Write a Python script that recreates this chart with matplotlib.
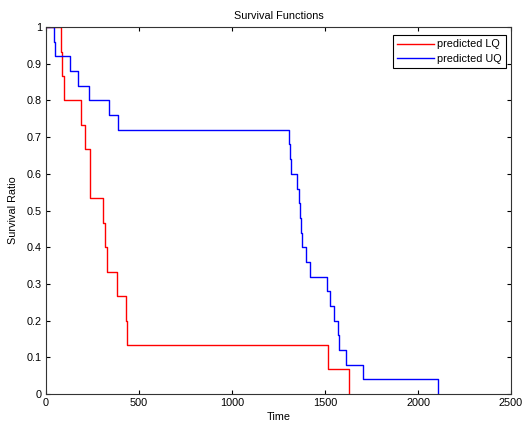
import matplotlib
matplotlib.use("Agg")
import matplotlib.pyplot as plt
import numpy as np

# Kaplan-Meier style step data
lq_time = [0, 80, 85, 95, 187, 210, 236, 305, 317, 330, 382, 428, 435, 1516, 1629]
lq_surv = [1.0, 0.933, 0.867, 0.8, 0.733, 0.667, 0.533, 0.467, 0.4, 0.333,
           0.267, 0.2, 0.133, 0.067, 0.0]

uq_time = [0, 43, 50, 128, 171, 230, 338, 385, 1306, 1312, 1317, 1351, 1360,
           1366, 1370, 1375, 1398, 1421, 1512, 1525, 1547, 1570, 1575, 1611,
           1703, 2105]
uq_surv = [1.0, 0.96, 0.92, 0.88, 0.84, 0.80, 0.76, 0.72, 0.68, 0.64, 0.60,
           0.56, 0.52, 0.48, 0.44, 0.40, 0.36, 0.32, 0.28, 0.24, 0.20, 0.16,
           0.12, 0.08, 0.04, 0.0]

x_ticks = [0, 500, 1000, 1500, 2000, 2500]
y_ticks = [0, 0.1, 0.2, 0.3, 0.4, 0.5, 0.6, 0.7, 0.8, 0.9, 1]
y_labels = ["0", "0.1", "0.2", "0.3", "0.4", "0.5", "0.6", "0.7", "0.8", "0.9", "1"]

plt.rcParams["font.family"] = ["Liberation Sans", "DejaVu Sans"]
plt.rcParams["font.size"] = 7.8

fig = plt.figure(figsize=(5.22, 4.23), dpi=100)
ax = fig.add_axes([0.0881, 0.0686, 0.979 - 0.0881, 0.936 - 0.0686])

ax.step(lq_time, lq_surv, where="post", color="#ff0000", linewidth=1.0, label="predicted LQ")
ax.step(uq_time, uq_surv, where="post", color="#0000ff", linewidth=1.0, label="predicted UQ")

ax.set_xlim(0, 2500)
ax.set_ylim(0, 1)
ax.set_xticks(x_ticks)
ax.set_yticks(y_ticks)
ax.set_yticklabels(y_labels)
ax.tick_params(direction="in", top=True, right=True, length=3, width=0.8,
               labelsize=7.8, pad=3)
for s in ax.spines.values():
    s.set_linewidth(0.8)
    s.set_color("#333333")

ax.set_title("Survival Functions", fontsize=7.8, pad=6)
ax.set_xlabel("Time", fontsize=7.8, labelpad=3)
ax.set_ylabel("Survival Ratio", fontsize=7.8, labelpad=6)

leg = ax.legend(loc="upper right", bbox_to_anchor=(0.989, 0.978), fontsize=7.8,
                frameon=True, fancybox=False, edgecolor="black", framealpha=1,
                handlelength=3.4, borderaxespad=0.0, labelspacing=0.4,
                handletextpad=0.3, borderpad=0.4)
leg.get_frame().set_linewidth(0.8)

fig.savefig("out.png", dpi=100)
